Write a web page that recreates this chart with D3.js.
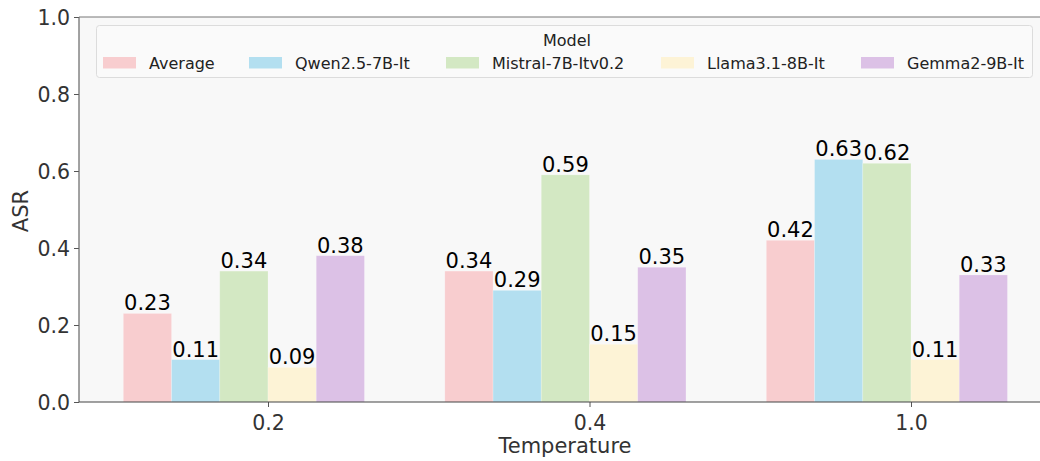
<!DOCTYPE html>
<html>
<head>
<meta charset="utf-8">
<script src="https://cdn.jsdelivr.net/npm/d3@7"></script>
<style>
body { margin: 0; background: #fff; }
svg { display: block; font-family: "DejaVu Sans", sans-serif; }
</style>
</head>
<body>
<svg id="drawing_region"></svg>
<script>
// data
const temperatures = ["0.2", "0.4", "1.0"];
const models = ["Average", "Qwen2.5-7B-It", "Mistral-7B-Itv0.2", "Llama3.1-8B-It", "Gemma2-9B-It"];
const average = [0.23, 0.34, 0.42];
const qwen = [0.11, 0.29, 0.63];
const mistral = [0.34, 0.59, 0.62];
const llama = [0.09, 0.15, 0.11];
const gemma = [0.38, 0.35, 0.33];
const colors = ["#f8cdcf", "#b3dff0", "#d3e8c3", "#fdf3d6", "#dcc1e6"];
const yticks = [0, 0.2, 0.4, 0.6, 0.8, 1.0];

const series = [average, qwen, mistral, llama, gemma];

var config = {
  width: 1040,
  height: 461,
  margin: {top: 17, right: 0, bottom: 59, left: 79}
};

const svg = d3.select('#drawing_region')
  .attr('width', config.width)
  .attr('height', config.height);

const inner_width = config.width - config.margin.left - config.margin.right;
const inner_height = config.height - config.margin.top - config.margin.bottom;

const chart = svg.append('g')
  .attr('transform', `translate(${config.margin.left}, ${config.margin.top})`);

chart.append('rect')
  .attr('width', inner_width + 5)
  .attr('height', inner_height)
  .attr('fill', '#f8f8f8');

// categorical x, step of 321.5px, first category 189px from the left spine
const step = 321.5;
const xscale = d3.scalePoint()
  .domain(temperatures)
  .range([189, 189 + step * (temperatures.length - 1)]);

// six dodge slots in a 0.9 wide group; only the first five are used
const inner = d3.scaleBand()
  .domain(d3.range(6))
  .range([-0.45 * step, 0.45 * step]);

const yscale = d3.scaleLinear()
  .domain([0, 1])
  .range([inner_height, 0]);

// bars
series.forEach((vals, si) => {
  const g = chart.append('g');
  g.selectAll('rect')
    .data(vals)
    .join('rect')
    .attr('x', (d, i) => xscale(temperatures[i]) + inner(si))
    .attr('y', d => yscale(d))
    .attr('width', inner.bandwidth())
    .attr('height', d => yscale(0) - yscale(d))
    .attr('fill', colors[si])
    .attr('stroke', '#ffffff')
    .attr('stroke-opacity', 0.25)
    .attr('stroke-width', 0.8);
  g.selectAll('text')
    .data(vals)
    .join('text')
    .attr('x', (d, i) => xscale(temperatures[i]) + inner(si) + inner.bandwidth() / 2)
    .attr('y', d => yscale(d) - 3)
    .attr('text-anchor', 'middle')
    .attr('font-size', 21)
    .attr('fill', '#000')
    .text(d => d.toFixed(2));
});

// axes
const xaxis = d3.axisBottom(xscale).tickSize(5).tickPadding(5);
const yaxis = d3.axisLeft(yscale).tickValues(yticks).tickFormat(d3.format('.1f')).tickSize(5).tickPadding(4);

const xg = chart.append('g')
  .attr('transform', `translate(0, ${inner_height})`)
  .call(xaxis);
const yg = chart.append('g').call(yaxis);

[xg, yg].forEach(g => {
  g.select('.domain').remove();
  g.selectAll('line').attr('stroke', '#555');
  g.selectAll('text').attr('font-size', 20.5).attr('fill', '#333').attr('font-family', '"DejaVu Sans", sans-serif');
});
xg.selectAll('text').attr('dy', '0.9em');
yg.selectAll('text').attr('dy', '0.36em');

// spines
chart.append('line').attr('x1', 0).attr('x2', 0).attr('y1', 0).attr('y2', inner_height)
  .attr('stroke', '#666').attr('stroke-width', 1.2);
chart.append('line').attr('x1', 0).attr('x2', inner_width + 5).attr('y1', inner_height).attr('y2', inner_height)
  .attr('stroke', '#444').attr('stroke-width', 1.2);
chart.append('line').attr('x1', 0).attr('x2', inner_width + 5).attr('y1', 0).attr('y2', 0)
  .attr('stroke', '#777').attr('stroke-width', 1);

// axis labels
svg.append('text')
  .attr('x', 565)
  .attr('y', 453)
  .attr('text-anchor', 'middle')
  .attr('font-size', 21)
  .attr('fill', '#333')
  .text('Temperature');

svg.append('text')
  .attr('transform', 'translate(28, 211) rotate(-90)')
  .attr('text-anchor', 'middle')
  .attr('font-size', 21)
  .attr('fill', '#333')
  .text('ASR');

// legend
const legend = svg.append('g');
legend.append('rect')
  .attr('x', 96.5).attr('y', 25.5)
  .attr('width', 936).attr('height', 52)
  .attr('rx', 3)
  .attr('fill', '#fafafa')
  .attr('stroke', '#dcdcdc');

legend.append('text')
  .attr('x', 567)
  .attr('y', 46)
  .attr('text-anchor', 'middle')
  .attr('font-size', 16)
  .attr('fill', '#222')
  .text('Model');

const swatchX = [103, 249, 446, 661, 861];
models.forEach((m, i) => {
  legend.append('rect')
    .attr('x', swatchX[i]).attr('y', 57)
    .attr('width', 33).attr('height', 11.5)
    .attr('fill', colors[i]);
  legend.append('text')
    .attr('x', swatchX[i] + 46)
    .attr('y', 69)
    .attr('font-size', 16)
    .attr('fill', '#222')
    .text(m);
});
</script>
</body>
</html>
